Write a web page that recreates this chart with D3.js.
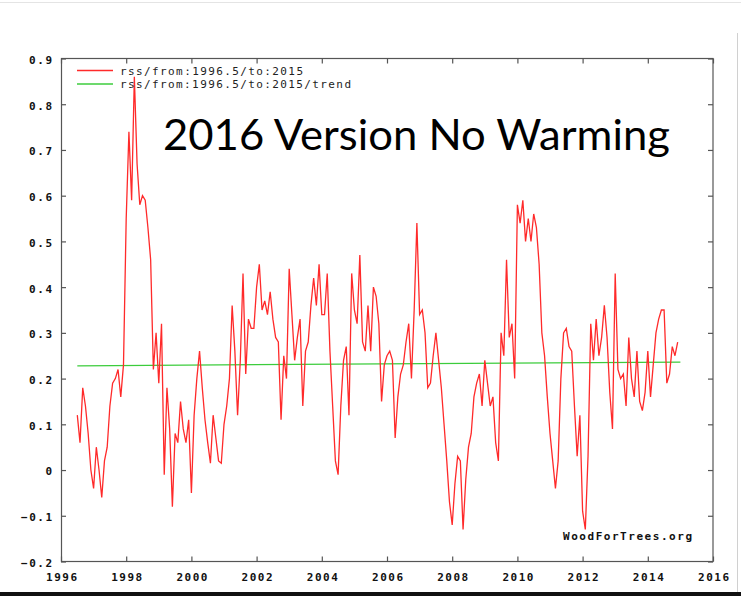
<!DOCTYPE html>
<html>
<head>
<meta charset="utf-8">
<script src="https://cdn.jsdelivr.net/npm/d3@7"></script>
<style>
  html, body { margin: 0; padding: 0; background: #ffffff; }
  svg { display: block; }
</style>
</head>
<body>
<svg id="chart" width="741" height="596"></svg>
<script>
// RSS lower-troposphere anomaly, monthly, Jul 1996 .. Dec 2014
const startYear = 1996.5;
const rssValues = [
  0.12, 0.06, 0.18, 0.14, 0.08, 0.00, -0.04, 0.05, 0.00, -0.06, 0.02, 0.05,
  0.14, 0.19, 0.20, 0.22, 0.16, 0.23, 0.55, 0.74, 0.59, 0.86, 0.67, 0.58,
  0.60, 0.59, 0.53, 0.46, 0.22, 0.30, 0.19, 0.32, -0.01, 0.18, 0.09, -0.08,
  0.08, 0.06, 0.15, 0.09, 0.06, 0.11, -0.05, 0.12, 0.20, 0.26, 0.18, 0.11,
  0.06, 0.015, 0.12, 0.07, 0.02, 0.015, 0.10, 0.14, 0.20, 0.36, 0.26, 0.12,
  0.24, 0.43, 0.21, 0.33, 0.31, 0.31, 0.40, 0.45, 0.35, 0.37, 0.34, 0.39,
  0.33, 0.29, 0.28, 0.11, 0.25, 0.20, 0.44, 0.34, 0.24, 0.29, 0.33, 0.14,
  0.26, 0.28, 0.36, 0.42, 0.36, 0.45, 0.34, 0.34, 0.43, 0.26, 0.14, 0.02,
  -0.01, 0.14, 0.24, 0.27, 0.12, 0.43, 0.35, 0.32, 0.47, 0.28, 0.26, 0.36,
  0.26, 0.40, 0.38, 0.32, 0.15, 0.23, 0.25, 0.26, 0.24, 0.07, 0.16, 0.21,
  0.23, 0.28, 0.32, 0.20, 0.35, 0.54, 0.34, 0.35, 0.30, 0.18, 0.19, 0.25,
  0.30, 0.24, 0.18, 0.10, 0.02, -0.07, -0.12, -0.03, 0.03, 0.02, -0.13, -0.02,
  0.05, 0.08, 0.16, 0.19, 0.21, 0.14, 0.24, 0.19, 0.14, 0.16, 0.06, 0.02,
  0.30, 0.25, 0.46, 0.29, 0.32, 0.20, 0.58, 0.54, 0.59, 0.50, 0.55, 0.50,
  0.56, 0.53, 0.45, 0.30, 0.25, 0.16, 0.08, 0.02, -0.04, 0.02, 0.20, 0.30,
  0.31, 0.27, 0.26, 0.14, 0.03, 0.12, -0.09, -0.13, 0.03, 0.32, 0.24, 0.33,
  0.25, 0.29, 0.36, 0.29, 0.17, 0.09, 0.43, 0.22, 0.20, 0.21, 0.14, 0.29,
  0.20, 0.16, 0.26, 0.15, 0.13, 0.17, 0.26, 0.16, 0.23, 0.30, 0.33, 0.35,
  0.35, 0.19, 0.21, 0.27, 0.25, 0.28
];

// least-squares trend endpoints as reported for the same period
const trendYears = [1996.5, 2015.0];
const trendValues = [0.228, 0.236];

const xTicks = [1996, 1998, 2000, 2002, 2004, 2006, 2008, 2010, 2012, 2014, 2016];
const yTicks = [-0.2, -0.1, 0, 0.1, 0.2, 0.3, 0.4, 0.5, 0.6, 0.7, 0.8, 0.9];

const legendLabels = ["rss/from:1996.5/to:2015", "rss/from:1996.5/to:2015/trend"];
const seriesColors = ["#ff2a2a", "#3ccc3c"];
const headline = "2016 Version No Warming";
const credit = "WoodForTrees.org";

const svg = d3.select("#chart");
const W = 741, H = 596;
const plot = { left: 61, right: 713, top: 58.5, bottom: 561.5 };

// page edges
svg.append("rect").attr("x", 0).attr("y", 0).attr("width", W).attr("height", H).attr("fill", "#ffffff");
svg.append("line").attr("x1", 0).attr("x2", W).attr("y1", 2.5).attr("y2", 2.5)
  .attr("stroke", "#e4e4e4").attr("stroke-width", 1);
svg.append("line").attr("x1", 737.5).attr("x2", 737.5).attr("y1", 33).attr("y2", 592)
  .attr("stroke", "#d0d0d0").attr("stroke-width", 1);
svg.append("rect").attr("x", 0).attr("y", 592).attr("width", W).attr("height", 4).attr("fill", "#111");

const x = d3.scaleLinear().domain([1996, 2016]).range([plot.left, plot.right]);
const y = d3.scaleLinear().domain([-0.2, 0.9]).range([plot.bottom, plot.top]);

const monoFont = "'DejaVu Sans Mono', 'Liberation Mono', monospace";
const axisColor = "#555555";
const tickLen = 5;

// frame
svg.append("rect")
  .attr("x", plot.left + 0.5).attr("y", plot.top)
  .attr("width", plot.right - plot.left - 0.5).attr("height", plot.bottom - plot.top)
  .attr("fill", "none").attr("stroke", axisColor).attr("stroke-width", 1.2);

// axes with inward ticks on all four sides
const fmtY = v => (Math.abs(v) < 1e-9 ? "0" : d3.format(".1f")(v));

const bottomAxis = d3.axisBottom(x).tickValues(xTicks).tickSize(-tickLen).tickFormat(d3.format("d"));
const topAxis = d3.axisTop(x).tickValues(xTicks).tickSize(-tickLen).tickFormat("");
const leftAxis = d3.axisLeft(y).tickValues(yTicks).tickSize(-tickLen).tickFormat(fmtY);
const rightAxis = d3.axisRight(y).tickValues(yTicks).tickSize(-tickLen).tickFormat("");

function styleAxis(g) {
  g.select(".domain").remove();
  g.selectAll(".tick line").attr("stroke", axisColor).attr("stroke-width", 1.2);
  g.selectAll(".tick text")
    .attr("fill", "#111")
    .attr("font-family", monoFont)
    .attr("font-weight", "bold")
    .attr("font-size", 11)
    .attr("lengthAdjust", "spacing")
    .attr("textLength", function () { return this.textContent.length * 8 - 1; });
}

svg.append("g").attr("transform", `translate(0,${plot.bottom})`).call(bottomAxis).call(styleAxis)
  .selectAll(".tick text").attr("y", 12).attr("dy", "0.71em");
svg.append("g").attr("transform", `translate(0,${plot.top})`).call(topAxis).call(styleAxis);
svg.append("g").attr("transform", `translate(${plot.left},0)`).call(leftAxis).call(styleAxis)
  .selectAll(".tick text").attr("x", -9).attr("dy", "0.45em");
svg.append("g").attr("transform", `translate(${plot.right},0)`).call(rightAxis).call(styleAxis);

// series
const rssPoints = rssValues.map((v, i) => ({ t: startYear + i / 12, v }));
const trendPoints = trendYears.map((t, i) => ({ t, v: trendValues[i] }));
const line = d3.line().x(d => x(d.t)).y(d => y(d.v));

svg.append("path").datum(trendPoints).attr("d", line)
  .attr("fill", "none").attr("stroke", seriesColors[1]).attr("stroke-width", 1.3);
svg.append("path").datum(rssPoints).attr("d", line)
  .attr("fill", "none").attr("stroke", seriesColors[0]).attr("stroke-width", 1.3)
  .attr("stroke-linejoin", "miter");

// legend
const legend = svg.append("g");
legendLabels.forEach((label, i) => {
  const ly = 70.5 + i * 13.5;
  legend.append("line").attr("x1", 77).attr("x2", 113).attr("y1", ly).attr("y2", ly)
    .attr("stroke", seriesColors[i]).attr("stroke-width", 1.3);
  legend.append("text").attr("x", 120).attr("y", ly + 4)
    .attr("font-family", monoFont).attr("font-size", 11).attr("fill", "#222")
    .attr("lengthAdjust", "spacing").attr("textLength", label.length * 8 - 1)
    .text(label);
});

// headline
svg.append("text").attr("x", 163).attr("y", 150)
  .attr("font-family", "Lato, 'Open Sans', sans-serif").attr("font-size", 42).attr("fill", "#000")
  .attr("lengthAdjust", "spacingAndGlyphs").attr("textLength", 507)
  .text(headline);

// credit
svg.append("text").attr("x", 563).attr("y", 540)
  .attr("font-family", monoFont).attr("font-weight", "bold").attr("font-size", 11).attr("fill", "#111")
  .attr("lengthAdjust", "spacing").attr("textLength", 129)
  .text(credit);
</script>
</body>
</html>
